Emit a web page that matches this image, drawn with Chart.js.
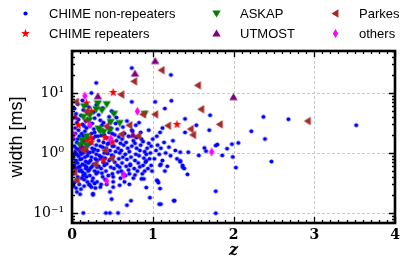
<!DOCTYPE html>
<html>
<head>
<meta charset="utf-8">
<script src="https://cdn.jsdelivr.net/npm/chart.js@4"></script>
<style>
  html, body { margin: 0; padding: 0; background: #fff; }
  #wrap { position: relative; width: 407px; height: 271px; }
</style>
</head>
<body>
<div id="wrap"><canvas id="chart" width="407" height="271"></canvas></div>
<script>
// FRB width vs redshift: [z, width ms]

const nonRepeaters = [
  // z < 0.1
  [0.02,0.45],[0.03,0.62],[0.02,0.85],[0.04,1.05],[0.03,1.3],[0.02,1.7],[0.04,2.1],[0.03,0.32],[0.05,0.55],[0.05,0.75],
  [0.06,0.95],[0.05,1.2],[0.06,1.5],[0.07,0.4],[0.07,0.68],[0.08,0.88],[0.08,1.15],[0.09,0.5],[0.09,0.3],[0.1,0.6],
  [0.04,2.6],[0.06,3.2],[0.05,4.5],[0.08,2.4],[0.09,1.9],[0.1,1.4],[0.03,5.5],[0.07,6.5],[0.02,0.28],[0.06,0.36],
  [0.1,0.78],[0.04,0.7],[0.08,3.6],[0.1,1.05],[0.03,0.95],[0.07,1.7],[0.06,0.224],[0.02,0.56],[0.08,0.58],[0.05,0.26],
  // 0.1 - 0.2
  [0.11,0.25],[0.12,0.38],[0.11,0.52],[0.13,0.65],[0.12,0.8],[0.14,1.0],[0.13,1.25],[0.15,1.55],[0.14,1.9],[0.16,2.3],
  [0.15,2.8],[0.17,3.4],[0.16,0.45],[0.18,0.58],[0.17,0.72],[0.19,0.9],[0.18,1.1],[0.2,1.35],[0.19,1.7],[0.12,2.1],
  [0.11,4.2],[0.14,5.2],[0.17,6.2],[0.13,7.5],[0.19,0.33],[0.15,0.28],[0.2,0.5],[0.12,1.45],[0.16,1.2],[0.18,2.6],
  [0.2,0.68],[0.14,0.42],[0.11,0.95],[0.19,4.6],[0.16,0.85],[0.13,3.0],[0.2,1.0],[0.17,0.55],[0.10,0.205],[0.14,0.1],
  [0.15,0.36],[0.13,0.48],[0.18,0.4],[0.16,0.62],
  // 0.2 - 0.3
  [0.21,0.3],[0.22,0.42],[0.23,0.56],[0.21,0.7],[0.24,0.85],[0.22,1.02],[0.25,1.2],[0.23,1.45],[0.26,1.75],[0.24,2.1],
  [0.27,2.5],[0.25,3.1],[0.28,3.8],[0.26,0.38],[0.28,0.5],[0.27,0.65],[0.29,0.8],[0.3,0.95],[0.28,1.15],[0.3,1.35],
  [0.29,1.9],[0.22,2.8],[0.27,4.8],[0.3,6.3],[0.21,5.8],[0.24,0.27],[0.29,0.26],[0.26,1.05],[0.23,0.75],[0.3,0.45],
  [0.25,0.6],[0.28,2.2],[0.26,0.21],[0.26,0.2],[0.22,0.29],[0.28,0.31],[0.30,14.7],[0.24,10.0],[0.21,0.52],[0.25,0.34],
  // 0.3 - 0.4
  [0.31,0.33],[0.32,0.48],[0.33,0.6],[0.31,0.75],[0.34,0.9],[0.32,1.1],[0.35,1.3],[0.33,1.6],[0.36,1.95],[0.34,2.4],
  [0.37,2.9],[0.35,3.5],[0.38,0.4],[0.36,0.55],[0.39,0.7],[0.37,0.85],[0.4,1.0],[0.38,1.25],[0.39,1.5],[0.4,2.0],
  [0.33,4.3],[0.38,5.6],[0.36,0.3],[0.4,0.62],[0.32,1.9],[0.35,0.8],[0.39,3.2],[0.35,0.27],[0.31,0.58],[0.37,0.46],
  // 0.4 - 0.5
  [0.41,0.36],[0.42,0.5],[0.43,0.66],[0.41,0.82],[0.44,0.98],[0.42,1.2],[0.45,1.45],[0.43,1.8],[0.46,2.2],[0.44,2.7],
  [0.47,3.3],[0.45,0.42],[0.48,0.58],[0.46,0.75],[0.49,0.92],[0.47,1.1],[0.5,1.3],[0.48,1.65],[0.5,2.1],[0.46,4.0],
  [0.49,5.0],[0.43,0.3],[0.5,0.45],[0.44,1.4],[0.48,2.6],[0.47,0.224],[0.49,0.17],[0.42,0.1],[0.47,0.1],
  // 0.5 - 0.6
  [0.51,0.4],[0.52,0.55],[0.53,0.7],[0.51,0.88],[0.54,1.05],[0.52,1.3],[0.55,1.6],[0.53,2.0],[0.56,2.5],[0.54,3.1],
  [0.57,0.48],[0.56,0.62],[0.58,0.8],[0.59,1.0],[0.57,1.2],[0.6,1.45],[0.58,1.85],[0.55,3.9],[0.6,0.38],[0.59,0.58],
  [0.52,4.6],[0.51,0.27],[0.51,0.33],[0.59,0.29],[0.57,0.1],
  // 0.6 - 0.7
  [0.61,0.5],[0.62,0.68],[0.63,0.85],[0.61,1.1],[0.64,1.35],[0.62,1.7],[0.65,2.1],[0.63,2.7],[0.66,0.42],[0.67,0.6],
  [0.68,0.78],[0.66,0.95],[0.69,1.2],[0.67,1.5],[0.7,1.9],[0.68,3.4],[0.65,0.33],[0.7,0.52],[0.635,0.45],[0.68,0.135],
  // 0.7 - 0.8
  [0.71,0.45],[0.72,0.65],[0.73,0.85],[0.71,1.05],[0.74,1.3],[0.76,1.6],[0.75,2.3],[0.74,2.4],[0.77,0.55],[0.78,0.75],
  [0.79,0.95],[0.8,1.2],[0.78,1.45],[0.8,1.8],[0.76,0.38],[0.79,2.9],[0.72,0.62],[0.78,0.43],[0.71,0.30],[0.73,0.16],
  [0.74,26],[0.74,7.1],
  // 0.8 - 1.0
  [0.81,0.5],[0.82,0.68],[0.83,0.9],[0.84,1.1],[0.85,1.35],[0.86,1.7],[0.87,0.45],[0.88,0.62],[0.89,0.82],[0.9,1.05],
  [0.88,1.55],[0.85,2.2],[0.9,0.5],[0.83,3.2],[0.84,0.585],[0.86,0.37],[0.89,0.37],[0.91,0.7],[0.92,0.95],[0.93,1.2],
  [0.95,1.45],[0.94,0.55],[0.96,0.8],[0.97,1.0],[0.98,1.3],[1.0,1.7],[0.99,0.5],[0.95,2.4],[0.92,0.74],[0.98,0.62],
  [0.92,0.265],[0.965,0.18],
  // 1.0 - 1.4
  [1.02,0.8],[1.04,1.1],[1.06,1.35],[1.08,0.95],[1.1,1.2],[1.12,0.75],[1.14,1.5],[1.16,1.0],[1.18,0.6],[1.2,1.25],
  [1.22,0.9],[1.25,1.6],[1.28,1.1],[1.05,1.9],[1.12,2.6],[1.3,0.8],[1.15,0.5],[1.09,0.62],[1.10,0.65],[1.05,0.35],
  [1.06,0.34],[1.07,0.32],[1.09,0.255],[1.10,0.14],[1.27,0.16],[1.08,0.14],[1.03,7.1],[1.23,7.4],[1.15,5.5],[1.225,20],
  [1.09,2.2],[1.34,0.74],[1.37,0.62],
  // sparse tail
  [1.40,3.7],[1.71,4.25],[1.54,2.9],[2.37,4.0],[2.68,3.65],[3.52,2.9],[1.70,2.4],[2.22,2.3],[2.39,1.71],[2.06,1.47],
  [1.98,1.40],[1.92,1.18],[1.80,1.38],[1.78,1.33],[1.64,1.21],[1.66,1.07],[1.86,0.91],[1.99,0.86],[2.03,0.57],[2.47,0.72],
  [1.78,0.23],[1.78,0.099],[1.40,2.2],[1.34,1.03],[1.44,1.03],[1.57,0.91],[1.34,0.71],[1.37,0.58],[1.39,0.55],[1.43,0.44],
  [1.26,0.16]
];

const repeaters = [
  [0.51,10.2],[0.18,6.8],[0.24,4.95],[0.19,3.5],[0.08,2.9],[1.30,3.0],[0.23,1.8],[0.41,1.8],
  [0.18,1.63],[0.24,1.52],[0.50,1.52],[0.39,0.76],[0.17,1.18]
];

const askap = [
  [0.32,6.7],[0.15,6.0],[0.43,6.5],[0.30,5.35],[0.37,5.15],[0.52,4.5],[0.22,4.25],[0.14,4.0],[0.48,3.3],[0.59,3.16],
  [0.21,3.5],[0.33,2.55],[0.35,2.33],[0.39,2.24],[0.47,2.39],[0.18,1.9],[0.12,1.63],[0.18,1.34],[0.10,1.34],[0.90,4.5]
];

const utmost = [
  [1.03,34],[0.78,21],[0.32,8.8],[0.04,4.0],[0.755,2.0],[2.0,8.5],[0.12,1.22]
];

const parkes = [
  [1.11,24],[0.77,15.6],[1.56,13.4],[0.61,9.4],[0.05,7.1],[0.18,4.95],[0.88,4.4],[1.03,4.4],[1.60,5.35],[1.19,2.85],
  [1.47,2.5],[1.50,2.0],[0.615,2.05],[0.82,1.92],[0.43,2.8],[0.71,2.9],[0.41,1.11],[0.49,0.81],[0.29,0.65],[0.14,1.12],
  [0.03,0.48],[0.06,0.35],[1.83,3.0],[2.92,3.4]
];

const others = [
  [0.16,8.9],[0.81,4.95],[0.22,3.0],[0.48,1.74],[0.43,0.34],[0.64,0.43],[1.73,1.04],[0.02,2.0]
];

const xTicks = [0, 1, 2, 3, 4];
const yTicks = [0.1, 1, 10];
const yLabels = ['10\u207B\u00B9', '10\u2070', '10\u00B9'];

// marker images so the same shapes go into the points and the legend
function makeMarker(shape, color, r) {
  const c = document.createElement('canvas');
  const s = Math.ceil(r * 2 + 2);
  c.width = s; c.height = s;
  const g = c.getContext('2d');
  const m = s / 2;
  g.fillStyle = color;
  g.beginPath();
  if (shape === 'circle') {
    g.arc(m, m, r, 0, Math.PI * 2);
  } else if (shape === 'star') {
    for (let i = 0; i < 10; i++) {
      const a = -Math.PI / 2 + i * Math.PI / 5;
      const rr = i % 2 === 0 ? r : r * 0.42;
      g.lineTo(m + rr * Math.cos(a), m + rr * Math.sin(a));
    }
  } else if (shape === 'down') {
    g.moveTo(m - r, m - r * 0.7); g.lineTo(m + r, m - r * 0.7); g.lineTo(m, m + r * 0.95);
  } else if (shape === 'up') {
    g.moveTo(m - r, m + r * 0.7); g.lineTo(m + r, m + r * 0.7); g.lineTo(m, m - r * 0.95);
  } else if (shape === 'left') {
    g.moveTo(m + r * 0.7, m - r); g.lineTo(m + r * 0.7, m + r); g.lineTo(m - r * 0.95, m);
  } else if (shape === 'diamond') {
    g.moveTo(m, m - r); g.lineTo(m + r * 0.6, m); g.lineTo(m, m + r); g.lineTo(m - r * 0.6, m);
  }
  g.closePath();
  g.fill();
  return c;
}

const series = [
  { label: 'CHIME non-repeaters', data: nonRepeaters, marker: makeMarker('circle', '#0000ff', 2.1), order: 6 },
  { label: 'CHIME repeaters', data: repeaters, marker: makeMarker('star', '#ff0000', 4.5), order: 5 },
  { label: 'ASKAP', data: askap, marker: makeMarker('down', '#008000', 4.2), order: 4 },
  { label: 'UTMOST', data: utmost, marker: makeMarker('up', '#800080', 4.2), order: 3 },
  { label: 'Parkes', data: parkes, marker: makeMarker('left', '#a52a2a', 4.2), order: 2 },
  { label: 'others', data: others, marker: makeMarker('diamond', '#ff00ff', 4.5), order: 1 }
];

// legend in three columns, two rows (column-major like matplotlib)
const legendCols = [25, 216, 335];
const legendRows = [13, 33];

const framePlugin = {
  id: 'frame',
  beforeDatasetsDraw(chart) {
    // dashed grid at the major ticks
    const { ctx, chartArea: a, scales } = chart;
    ctx.save();
    ctx.strokeStyle = '#c8c8c8';
    ctx.lineWidth = 1;
    ctx.setLineDash([3, 2]);
    ctx.beginPath();
    xTicks.forEach(v => {
      const px = Math.round(scales.x.getPixelForValue(v)) + 0.5;
      ctx.moveTo(px, a.top); ctx.lineTo(px, a.bottom);
    });
    yTicks.forEach(v => {
      const py = Math.round(scales.y.getPixelForValue(v)) + 0.5;
      ctx.moveTo(a.left, py); ctx.lineTo(a.right, py);
    });
    ctx.stroke();
    ctx.restore();
  },
  afterDatasetsDraw(chart) {
    const { ctx, chartArea: a, scales } = chart;
    const x = scales.x, y = scales.y;
    ctx.save();
    ctx.strokeStyle = '#000';
    // inward ticks on all four sides
    ctx.lineWidth = 1.3;
    ctx.beginPath();
    for (let v = 0; v <= 4.0001; v += 0.1) {
      const px = Math.round(x.getPixelForValue(v)) + 0.5;
      const major = Math.abs(v - Math.round(v)) < 1e-6;
      const len = major ? 6 : 3;
      ctx.moveTo(px, a.bottom); ctx.lineTo(px, a.bottom - len);
      ctx.moveTo(px, a.top); ctx.lineTo(px, a.top + len);
    }
    for (let d = -2; d <= 1; d++) {
      for (let k = 1; k <= 9; k++) {
        const v = k * Math.pow(10, d);
        if (v < y.min || v > y.max) continue;
        const py = Math.round(y.getPixelForValue(v)) + 0.5;
        const len = k === 1 ? 6 : 3;
        ctx.moveTo(a.left, py); ctx.lineTo(a.left + len, py);
        ctx.moveTo(a.right, py); ctx.lineTo(a.right - len, py);
      }
    }
    ctx.stroke();
    // thick frame
    ctx.lineWidth = 2.6;
    ctx.strokeRect(a.left, a.top, a.right - a.left, a.bottom - a.top);
    ctx.restore();
  },
  afterDraw(chart) {
    const ctx = chart.ctx;
    ctx.save();
    ctx.font = "13px 'Liberation Sans', Arial, sans-serif";
    ctx.fillStyle = '#000';
    ctx.textBaseline = 'middle';
    series.forEach((s, i) => {
      const col = Math.floor(i / 2), row = i % 2;
      const mx = legendCols[col], my = legendRows[row];
      ctx.drawImage(s.marker, Math.round(mx - s.marker.width / 2), Math.round(my - s.marker.height / 2));
      ctx.fillText(s.label, mx + 24, my + 1);
    });
    ctx.restore();
  }
};

new Chart(document.getElementById('chart'), {
  type: 'scatter',
  data: {
    datasets: series.map(s => ({
      label: s.label,
      data: s.data.map(p => ({ x: p[0], y: p[1] })),
      pointStyle: s.marker,
      order: s.order
    }))
  },
  options: {
    responsive: false,
    animation: false,
    devicePixelRatio: 1,
    layout: { padding: { top: 51, right: 12, left: 0, bottom: 0 } },
    plugins: {
      legend: { display: false },
      tooltip: { enabled: false }
    },
    scales: {
      x: {
        type: 'linear',
        min: 0, max: 4,
        afterBuildTicks: scale => { scale.ticks = xTicks.map(v => ({ value: v })); },
        afterFit: scale => { scale.height = 48; },
        grid: { display: false, drawTicks: false },
        border: { display: false },
        ticks: {
          padding: 4,
          color: '#000',
          font: { family: "'DejaVu Serif', serif", size: 14, weight: 'bold' },
          callback: v => String(v)
        },
        title: {
          display: true,
          text: 'z',
          color: '#000',
          padding: { top: 0, bottom: 11 },
          font: { family: "'DejaVu Serif', serif", size: 16, style: 'italic', weight: 'bold' }
        }
      },
      y: {
        type: 'logarithmic',
        min: 0.068, max: 50,
        afterBuildTicks: scale => { scale.ticks = yTicks.map(v => ({ value: v })); },
        afterFit: scale => { scale.width = 72; },
        grid: { display: false, drawTicks: false },
        border: { display: false },
        ticks: {
          padding: 8,
          color: '#000',
          font: { family: "'DejaVu Serif', serif", size: 14 },
          callback: v => yLabels[yTicks.indexOf(v)] || ''
        },
        title: {
          display: true,
          text: 'width [ms]',
          color: '#000',
          padding: { top: 6, bottom: 0 },
          font: { family: "'Liberation Sans', Arial, sans-serif", size: 18 }
        }
      }
    }
  },
  plugins: [framePlugin]
});
</script>
</body>
</html>
